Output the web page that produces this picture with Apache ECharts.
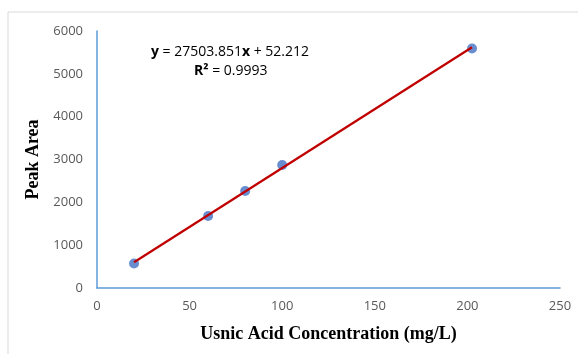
<!DOCTYPE html>
<html><head><meta charset="utf-8">
<script src="https://cdn.jsdelivr.net/npm/echarts@6/dist/echarts.min.js"></script>
<style>html,body{margin:0;padding:0;background:#fff}#c{width:578px;height:354px}</style>
</head><body><div id="c"></div>
<script>
const concentration = [20, 60, 80, 100, 202.5];
const peakArea = [570, 1680, 2265, 2870, 5590];
const xTicks = [0, 50, 100, 150, 200, 250];
const yTicks = [0, 1000, 2000, 3000, 4000, 5000, 6000];
const equationText = ['y', ' = 27503.851', 'x', ' + 52.212'];
const r2Text = ['R²', ' = 0.9993'];

// least squares fit from the data
const n = concentration.length;
const mx = concentration.reduce((a,b)=>a+b,0)/n;
const my = peakArea.reduce((a,b)=>a+b,0)/n;
let sxy=0,sxx=0;
for(let i=0;i<n;i++){sxy+=(concentration[i]-mx)*(peakArea[i]-my);sxx+=(concentration[i]-mx)**2;}
const slope=sxy/sxx, icpt=my-slope*mx;
const xMin=Math.min(...concentration), xMax=Math.max(...concentration);
const fitLine=[[xMin, icpt+slope*xMin],[xMax, icpt+slope*xMax]];

const chart = echarts.init(document.getElementById('c'), null, {renderer:'canvas'});
const richStyle = {b:{fontFamily:'Open Sans',fontWeight:'bold',fontSize:14,fill:'#000'},
                   n:{fontFamily:'Open Sans',fontSize:14,fill:'#000'}};
chart.setOption({
  animation:false,
  backgroundColor:'#fff',
  grid:{left:97,right:18,top:31,bottom:66,containLabel:false},
  xAxis:{type:'value',min:xTicks[0],max:xTicks[xTicks.length-1],interval:xTicks[1]-xTicks[0],
    axisLine:{show:true,lineStyle:{color:'#5B9BD5',width:1.5}},
    axisTick:{show:false},splitLine:{show:false},
    axisLabel:{color:'#595959',fontSize:13,fontFamily:'Open Sans',margin:12,formatter:v=>String(v)},
    name:'Usnic Acid Concentration (mg/L)',nameLocation:'middle',nameGap:37,
    nameTextStyle:{fontFamily:'Liberation Serif',fontWeight:'bold',fontSize:18,color:'#000'}},
  yAxis:{type:'value',min:yTicks[0],max:yTicks[yTicks.length-1],interval:yTicks[1]-yTicks[0],
    axisLine:{show:true,onZero:false,lineStyle:{color:'#5B9BD5',width:1.5}},
    axisTick:{show:false},splitLine:{show:false},
    axisLabel:{color:'#595959',fontSize:13,fontFamily:'Open Sans',margin:14,formatter:v=>String(v)},
    name:'Peak Area',nameLocation:'middle',nameGap:48,nameRotate:90,
    nameTextStyle:{fontFamily:'Liberation Serif',fontWeight:'bold',fontSize:18,color:'#000'}},
  series:[
    {type:'scatter',data:concentration.map((x,i)=>[x,peakArea[i]]),symbolSize:10,
      itemStyle:{color:'#4472C4'},z:2},
    {type:'line',data:fitLine,symbol:'none',lineStyle:{color:'#C00000',width:2.2},z:3}
  ],
  graphic:[
    {type:'rect',shape:{x:8,y:12,width:600,height:400},style:{fill:'none',stroke:'#D9D9D9',lineWidth:1},z:-1},
    {type:'text',left:151,top:45,style:{
      text:'{b|'+equationText[0]+'}{n|'+equationText[1]+'}{b|'+equationText[2]+'}{n|'+equationText[3]+'}',
      rich:richStyle}},
    {type:'text',left:194,top:64,style:{
      text:'{b|'+r2Text[0]+'}{n|'+r2Text[1]+'}',
      rich:richStyle}}
  ]
});
</script></body></html>
